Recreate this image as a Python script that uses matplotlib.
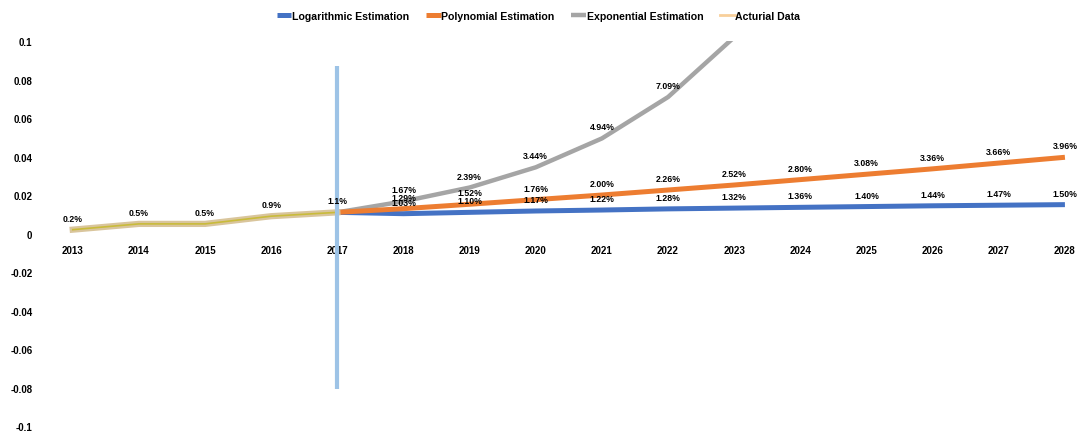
import matplotlib.pyplot as plt

# data (fractions, labels are percent)
actual_years = [2013, 2014, 2015, 2016, 2017]
actual = [0.002, 0.005, 0.005, 0.009, 0.011]
actual_labels = ["0.2%", "0.5%", "0.5%", "0.9%", "1.1%"]

est_years = [2017, 2018, 2019, 2020, 2021, 2022, 2023, 2024, 2025, 2026, 2027, 2028]
log_est = [0.011, 0.0103, 0.0110, 0.0117, 0.0122, 0.0128, 0.0132, 0.0136, 0.0140, 0.0144, 0.0147, 0.0150]
poly_est = [0.011, 0.0129, 0.0152, 0.0176, 0.0200, 0.0226, 0.0252, 0.0280, 0.0308, 0.0336, 0.0366, 0.0396]
exp_years = [2017, 2018, 2019, 2020, 2021, 2022, 2023]
exp_est = [0.011, 0.0167, 0.0239, 0.0344, 0.0494, 0.0709, 0.102]

# the marker line at 2017
vline_x = 2017
vline_lo, vline_hi = -0.081, 0.087

yticks = [0.1, 0.08, 0.06, 0.04, 0.02, 0, -0.02, -0.04, -0.06, -0.08, -0.1]
ytick_labels = ["0.1", "0.08", "0.06", "0.04", "0.02", "0", "-0.02", "-0.04", "-0.06", "-0.08", "-0.1"]
xticks = list(range(2013, 2029))

plt.rcParams['font.family'] = ['Liberation Sans', 'DejaVu Sans']

fig = plt.figure(figsize=(10.77, 4.39), dpi=100)
ax = fig.add_axes([0.043, 0.0273, 0.955, 0.877])

# x axis crosses at zero, no visible lines
ax.spines['bottom'].set_position(('data', 0))
for s in ax.spines.values():
    s.set_color('none')

ax.plot(est_years, log_est, color='#4472c4', lw=3.6, label='Logarithmic Estimation', solid_capstyle='butt', zorder=3)
ax.plot(est_years, poly_est, color='#ed7d31', lw=3.6, label='Polynomial Estimation', solid_capstyle='butt', zorder=3)
ax.plot(exp_years, exp_est, color='#a5a5a5', lw=3.2, label='Exponential Estimation', solid_capstyle='butt', zorder=2)
ax.plot(actual_years, actual, color='#d9c59c', lw=4.5, zorder=4)
ax.plot(actual_years, actual, color='#c9bb3a', lw=1.2, zorder=4)
# legend handle only
ax.plot([], [], color='#f8cf9a', lw=2, label='Acturial Data')

ax.plot([vline_x, vline_x], [vline_lo, vline_hi], color='#9dc3e6', lw=3, zorder=5, solid_capstyle='butt')

def put_labels(xs, ys, texts):
    for x, y, t in zip(xs, ys, texts):
        ax.annotate(t, (x, y), xytext=(0, 5), textcoords='offset points',
                    ha='center', va='bottom', fontsize=6.3, fontweight='bold', zorder=6)

put_labels(actual_years, actual, actual_labels)
put_labels(est_years[1:], log_est[1:], ["%.2f%%" % (v * 100) for v in log_est[1:]])
put_labels(est_years[1:], poly_est[1:], ["%.2f%%" % (v * 100) for v in poly_est[1:]])
put_labels(exp_years[1:6], exp_est[1:6], ["%.2f%%" % (v * 100) for v in exp_est[1:6]])

ax.set_xlim(2012.6, 2028.15)
ax.set_ylim(-0.1, 0.1)
ax.set_yticks(yticks)
ax.set_yticklabels(ytick_labels, fontsize=7, fontweight='bold')
ax.set_xticks(xticks)
ax.set_xticklabels([str(x) for x in xticks], fontsize=7, fontweight='bold')
ax.tick_params(axis='x', length=0, pad=8)
ax.tick_params(axis='y', length=0, pad=10)

fig.legend(loc='center', bbox_to_anchor=(0.5, 0.962), ncol=4, frameon=False,
           handlelength=1.4, handletextpad=0.05, columnspacing=1.6,
           prop={'size': 7.6, 'weight': 'bold'})

fig.savefig('out.png', dpi=100)
